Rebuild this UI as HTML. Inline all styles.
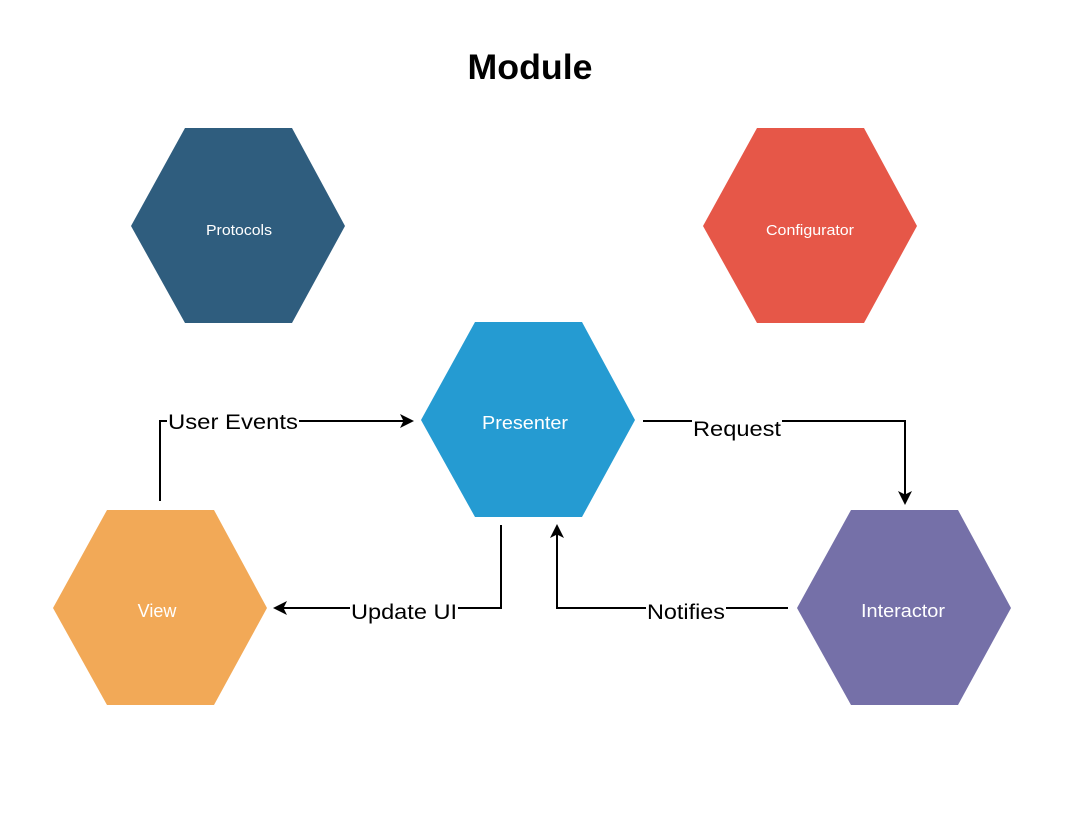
<!DOCTYPE html>
<html><head><meta charset="utf-8"><style>
html,body{margin:0;padding:0;background:#fff;}
svg{display:block;}
</style></head><body>
<svg width="1076" height="818" viewBox="0 0 1076 818" xmlns="http://www.w3.org/2000/svg" font-family="Liberation Sans, Helvetica, Arial, sans-serif">
<defs>
<marker id="a" markerWidth="14" markerHeight="14" refX="12" refY="7" orient="auto" markerUnits="userSpaceOnUse">
<path d="M0,0 L14,7 L0,14 L3.5,7 Z" fill="#000"/>
</marker>
</defs>
<text x="530" y="79" text-anchor="middle" font-size="35" font-weight="bold" textLength="125" lengthAdjust="spacingAndGlyphs">Module</text>
<polygon points="185,128 292,128 345,226 292,323 185,323 131,226" fill="#2f5d7e"/>
<text x="239" y="235" text-anchor="middle" font-size="15" fill="#fff" textLength="66" lengthAdjust="spacingAndGlyphs">Protocols</text>
<polygon points="757,128 864,128 917,226 864,323 757,323 703,226" fill="#e65748"/>
<text x="810" y="235" text-anchor="middle" font-size="15" fill="#fff" textLength="88" lengthAdjust="spacingAndGlyphs">Configurator</text>
<polygon points="475,322 582,322 635,420 582,517 475,517 421,420" fill="#259bd2"/>
<text x="525" y="429" text-anchor="middle" font-size="18" fill="#fff" textLength="86" lengthAdjust="spacingAndGlyphs">Presenter</text>
<polygon points="107,510 214,510 267,608 214,705 107,705 53,608" fill="#f2a957"/>
<text x="157" y="617" text-anchor="middle" font-size="18" fill="#fff">View</text>
<polygon points="851,510 958,510 1011,608 958,705 851,705 797,608" fill="#7570a8"/>
<text x="903" y="617" text-anchor="middle" font-size="18" fill="#fff" textLength="84" lengthAdjust="spacingAndGlyphs">Interactor</text>
<g fill="none" stroke="#000" stroke-width="2">
<polyline points="160,501 160,421 412,421" marker-end="url(#a)"/>
<polyline points="643,421 905,421 905,503" marker-end="url(#a)"/>
<polyline points="501,525 501,608 275,608" marker-end="url(#a)"/>
<polyline points="788,608 557,608 557,526" marker-end="url(#a)"/>
</g>
<g font-size="21">
<rect x="167" y="409" width="132" height="24" fill="#fff"/>
<text x="233" y="429" text-anchor="middle" textLength="130" lengthAdjust="spacingAndGlyphs">User Events</text>
<rect x="692" y="416" width="90" height="24" fill="#fff"/>
<text x="737" y="436" text-anchor="middle" textLength="88" lengthAdjust="spacingAndGlyphs">Request</text>
<rect x="350" y="599" width="108" height="24" fill="#fff"/>
<text x="404" y="619" text-anchor="middle" textLength="106" lengthAdjust="spacingAndGlyphs">Update UI</text>
<rect x="646" y="599" width="80" height="24" fill="#fff"/>
<text x="686" y="619" text-anchor="middle" textLength="78" lengthAdjust="spacingAndGlyphs">Notifies</text>
</g>
</svg>
</body></html>
